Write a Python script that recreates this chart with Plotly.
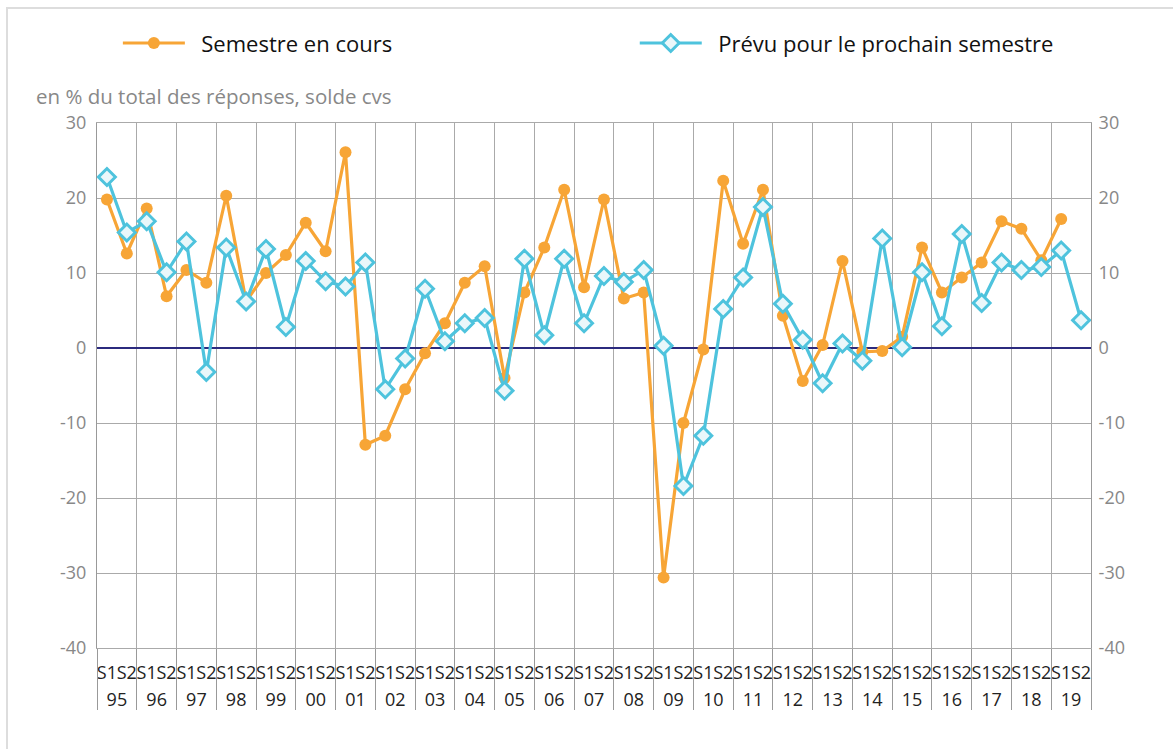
import plotly.graph_objects as go

years = ["95", "96", "97", "98", "99", "00", "01", "02", "03", "04", "05", "06", "07",
         "08", "09", "10", "11", "12", "13", "14", "15", "16", "17", "18", "19"]
semesters = ["S1", "S2"]

semestre_en_cours = [
    19.8, 12.6, 18.6, 6.9, 10.4, 8.7, 20.3, 6.2, 10.0, 12.4,
    16.7, 12.9, 26.1, -12.9, -11.7, -5.5, -0.7, 3.3, 8.7, 10.9,
    -4.0, 7.4, 13.4, 21.1, 8.1, 19.8, 6.6, 7.4, -30.6, -10.0,
    -0.2, 22.3, 13.9, 21.1, 4.3, -4.4, 0.4, 11.6, -0.5, -0.4,
    1.5, 13.4, 7.4, 9.4, 11.4, 16.9, 15.9, 11.7, 17.2,
]
prevu_prochain = [
    22.8, 15.4, 16.9, 10.1, 14.2, -3.2, 13.4, 6.2, 13.2, 2.8,
    11.6, 8.9, 8.2, 11.4, -5.5, -1.4, 7.9, 0.9, 3.3, 4.0,
    -5.7, 11.9, 1.7, 11.9, 3.3, 9.6, 8.8, 10.4, 0.3, -18.4,
    -11.7, 5.2, 9.4, 18.8, 5.9, 1.1, -4.7, 0.6, -1.7, 14.6,
    0.1, 10.1, 2.9, 15.2, 6.0, 11.4, 10.4, 10.8, 13.0, 3.7,
]
y_ticks = [30, 20, 10, 0, -10, -20, -30, -40]
y_ticktext = ["30", "20", "10", "0", "-10", "-20", "-30", "-40"]

sem_labels = [s for _ in years for s in semesters]
n = len(sem_labels)
x_idx = list(range(n))
year_pos = [2 * i + 0.5 for i in range(len(years))]
boundaries = [2 * i - 0.5 for i in range(len(years) + 1)]

ORANGE = "#F7A536"
CYAN = "#4EC3DD"
FONT = "Open Sans"

# plot area in pixels (for placing frame / legends)
L, T, W, H = 97, 123, 994, 525

fig = go.Figure()
fig.add_trace(go.Scatter(
    x=x_idx[:len(semestre_en_cours)], y=semestre_en_cours,
    name="\u00a0\u00a0Semestre en cours", mode="lines+markers",
    line=dict(color=ORANGE, width=3.2),
    marker=dict(symbol="circle", size=12, color=ORANGE),
    legend="legend",
))
fig.add_trace(go.Scatter(
    x=x_idx, y=prevu_prochain,
    name="\u00a0\u00a0Prévu pour le prochain semestre", mode="lines+markers",
    line=dict(color=CYAN, width=3.2),
    marker=dict(symbol="diamond", size=13, color="#EAF7FA",
                line=dict(color=CYAN, width=3)),
    legend="legend2",
))
# invisible helpers so the overlaying axes are laid out
fig.add_trace(go.Scatter(x=[boundaries[0], boundaries[-1]], y=[None, None],
                         xaxis="x2", yaxis="y", showlegend=False, hoverinfo="skip"))
fig.add_trace(go.Scatter(x=[boundaries[0], boundaries[-1]], y=[None, None],
                         xaxis="x3", yaxis="y", showlegend=False, hoverinfo="skip"))
fig.add_trace(go.Scatter(x=[None], y=[None], xaxis="x", yaxis="y2",
                         showlegend=False, hoverinfo="skip"))

legend_common = dict(orientation="h", xanchor="left", y=1.152, yanchor="middle",
                     font=dict(size=22, color="#111"), itemwidth=62,
                     bgcolor="rgba(0,0,0,0)")

fig.update_layout(
    width=1173, height=749,
    margin=dict(l=L, r=1173 - L - W, t=T, b=749 - T - H),
    paper_bgcolor="white", plot_bgcolor="white",
    font=dict(family=FONT, size=18, color="#222"),
    showlegend=True,
    legend=dict(x=0.021, **legend_common),
    legend2=dict(x=0.541, **legend_common),
    xaxis=dict(
        range=[-0.5, n - 0.5], tickvals=x_idx, ticktext=sem_labels, tickangle=0,
        showgrid=False, zeroline=False, showline=True, linecolor="#aaa", linewidth=1,
        mirror=True, ticks="", ticklabelstandoff=8,
        tickfont=dict(size=18, color="#222"), automargin=False,
    ),
    xaxis2=dict(
        overlaying="x", anchor="y", range=[-0.5, n - 0.5],
        tickvals=boundaries, showticklabels=False, ticks="outside", ticklen=61,
        tickcolor="#999", tickwidth=1,
        showgrid=True, gridcolor="#aaa", gridwidth=1, showline=False, zeroline=False,
        automargin=False,
    ),
    xaxis3=dict(
        overlaying="x", anchor="y", range=[-0.5, n - 0.5],
        tickvals=year_pos, ticktext=years, tickangle=0, ticks="",
        ticklabelstandoff=39, showgrid=False, showline=False, zeroline=False,
        tickfont=dict(size=18, color="#222"), automargin=False,
    ),
    yaxis=dict(
        range=[-40, 30], tickvals=y_ticks, ticktext=y_ticktext,
        showgrid=True, gridcolor="#aaa", gridwidth=1,
        zeroline=True, zerolinecolor="#2B2A7E", zerolinewidth=2,
        showline=True, linecolor="#999", linewidth=1,
        tickfont=dict(size=18, color="#888"), ticks="", ticklabelstandoff=6,
        automargin=False,
    ),
    yaxis2=dict(
        overlaying="y", side="right", anchor="x", range=[-40, 30],
        tickvals=y_ticks, ticktext=y_ticktext,
        showgrid=False, zeroline=False, showline=True, linecolor="#999", linewidth=1,
        tickfont=dict(size=18, color="#888"), ticks="", ticklabelstandoff=3,
        automargin=False,
    ),
    annotations=[dict(
        text="en % du total des réponses, solde cvs", xref="paper", yref="paper",
        x=-0.063, y=1.051, xanchor="left", yanchor="middle", showarrow=False,
        font=dict(family=FONT, size=20.5, color="#888"),
    )],
    shapes=[dict(
        type="rect", xref="paper", yref="paper",
        x0=(7 - L) / W, x1=(1190 - L) / W,
        y0=(T + H - 770) / H, y1=(T + H - 8) / H,
        line=dict(color="#DDDDDD", width=2), fillcolor="rgba(0,0,0,0)", layer="below",
    )],
)

fig.write_html("out.html", config={"displayModeBar": False},
               post_script="document.body.style.margin='0';")
